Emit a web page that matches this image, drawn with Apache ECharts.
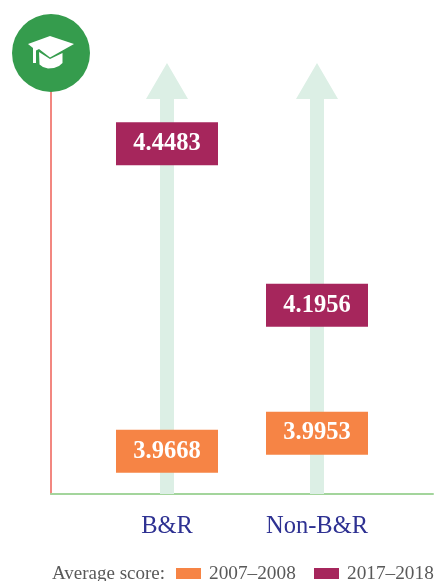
<!DOCTYPE html>
<html><head><meta charset="utf-8">
<style>html,body{margin:0;padding:0;background:#fff;overflow:hidden}#c{width:435px;height:581px}</style>
<script src="https://cdn.jsdelivr.net/npm/echarts@6/dist/echarts.min.js"></script>
</head><body><div id="c"></div>
<script>
const categories = ['B&R', 'Non-B&R'];
const positions = [1, 2];
const scores0708 = [3.9668, 3.9953];
const scores1718 = [4.4483, 4.1956];
const arrowTop = [4.575, 4.575];
const seriesNames = ['2007–2008', '2017–2018'];
const legendLead = 'Average score:';
const FONT = '"Liberation Serif","Times New Roman",serif';

const chart = echarts.init(document.getElementById('c'), null, {renderer: 'canvas'});

function boxSeries(name, color, values) {
  return {
    name, type: 'scatter', z: 5,
    symbol: 'rect', symbolSize: [102, 43],
    itemStyle: {color, opacity: 1},
    label: {show: true, position: 'inside', color: '#fff', fontFamily: FONT, fontWeight: 'bold', fontSize: 24.5,
      formatter: p => p.value[1].toFixed(4)},
    emphasis: {disabled: true},
    data: values.map((v, i) => [positions[i], v])
  };
}

function legendItem(name, left) {
  return {
    left, top: 564, padding: 0, itemWidth: 25, itemHeight: 11, itemGap: 0,
    icon: 'rect', data: [name], selectedMode: false,
    textStyle: {color: '#595959', fontFamily: FONT, fontSize: 19.3, padding: [0, 0, 0, 3]}
  };
}

chart.setOption({
  animation: false,
  grid: {left: 51, right: 2, top: 47, bottom: 87},
  xAxis: {
    type: 'value', min: 0.2267, max: 2.7733, splitLine: {show: false},
    axisLine: {show: true, onZero: false, lineStyle: {color: '#a3d59c', width: 2}},
    axisTick: {show: false},
    axisLabel: {
      customValues: positions, margin: 20, color: '#2e3192', fontFamily: FONT, fontSize: 24.5,
      formatter: v => categories[positions.indexOf(v)]
    }
  },
  yAxis: {
    type: 'value', min: 3.9, max: 4.6, splitLine: {show: false},
    axisLine: {show: true, onZero: false, lineStyle: {color: '#ee5f56', width: 1.5}},
    axisTick: {show: false}, axisLabel: {show: false}
  },
  legend: [legendItem(seriesNames[0], 176), legendItem(seriesNames[1], 314)],
  series: [
    {
      type: 'custom', z: 1, silent: true,
      data: positions.map((p, i) => [p, arrowTop[i]]),
      renderItem: (params, api) => {
        const tip = api.coord([api.value(0), api.value(1)]);
        const base = api.coord([api.value(0), 3.9]);
        const x = tip[0], t = tip[1], b = base[1];
        return {type: 'polygon', shape: {points: [
          [x, t], [x + 21, t + 36], [x + 7, t + 36], [x + 7, b],
          [x - 7, b], [x - 7, t + 36], [x - 21, t + 36]
        ]}, style: {fill: '#dcefe5'}};
      }
    },
    boxSeries(seriesNames[0], '#f68445', scores0708),
    boxSeries(seriesNames[1], '#a6265c', scores1718)
  ],
  graphic: [
    {type: 'circle', z: 10, shape: {cx: 51, cy: 53, r: 39}, style: {fill: '#359c4d'}},
    {type: 'polygon', z: 11, shape: {points: [[28, 44], [50, 36], [74, 44], [50, 57.5], [39, 49], [36, 50.5], [36, 63], [33, 63], [33, 48]]}, style: {fill: '#fff'}},
    {type: 'polygon', z: 11, shape: {points: [[39, 52], [50, 59], [62.5, 53], [62.5, 63], [59, 66], [54, 68], [48, 68.5], [43, 67], [39.5, 64.5]]}, style: {fill: '#fff'}},
    {type: 'text', z: 11, style: {x: 52, y: 565, text: legendLead, fill: '#595959', font: '19px ' + FONT}}
  ]
});
</script></body></html>
